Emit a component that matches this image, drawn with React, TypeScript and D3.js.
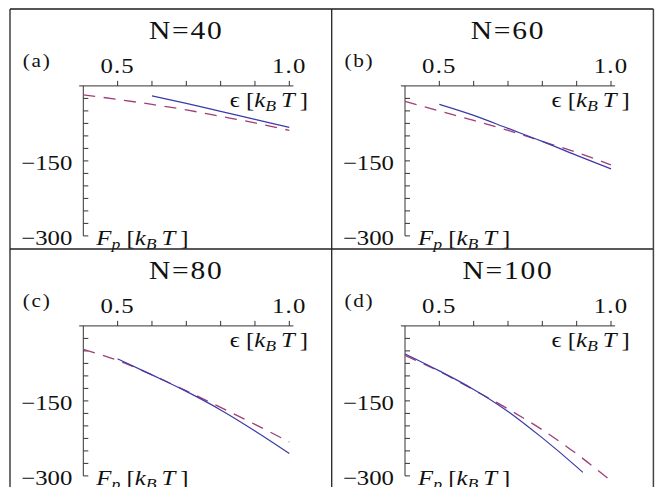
import * as d3 from 'd3'

// epsilon grid shared by most curves
const EPS = [0.4, 0.5, 0.6, 0.7, 0.8, 0.9, 1.0]

// (a) N=40
const BLUE_X_A = [0.6, 0.7, 0.8, 0.9, 1.0]
const BLUE_A = [-20, -35, -51, -67, -83]
const DASH_A = [-18, -27, -37, -48, -61, -74, -89]
// (b) N=60
const BLUE_X_B = [0.5, 0.6, 0.7, 0.8, 0.9, 1.0]
const BLUE_B = [-37, -59, -85, -111, -139, -166]
const DASH_B = [-31, -50, -69, -89, -111, -133, -158]
// (c) N=80
const BLUE_X_C = [0.5, 0.6, 0.7, 0.8, 0.9, 1.0]
const BLUE_C = [-66, -98, -131, -168, -210, -255]
const DASH_C = [-47, -69, -98, -130, -163, -197, -232]
// (d) N=100
const BLUE_X_D = [0.4, 0.5, 0.6, 0.7, 0.8, 0.9, 0.918]
const BLUE_D = [-56, -90, -127, -171, -224, -282, -293]
const DASH_D = [-59, -91, -128, -166, -208, -256, -310]

const TITLES = ['N=40', 'N=60', 'N=80', 'N=100']
const TAGS = ['(a)', '(b)', '(c)', '(d)']
const X_TICK_LABELS = [0.5, 1.0]
const Y_TICK_LABELS = [-150, -300]

const panels = [
  { blueX: BLUE_X_A, blue: BLUE_A, dash: DASH_A },
  { blueX: BLUE_X_B, blue: BLUE_B, dash: DASH_B },
  { blueX: BLUE_X_C, blue: BLUE_C, dash: DASH_C },
  { blueX: BLUE_X_D, blue: BLUE_D, dash: DASH_D },
]

const W = 655
const H = 487
const FX = 10, FY = 9
const PW = 321.7, PH = 240
const FONT = '"Liberation Serif", "DejaVu Serif", serif'
const BLUE = '#3a3aa8'
const PURPLE = '#a33c78'
const AXIS = '#333'
const SX = 1.18 // text in the source is a bit wide

const x = d3.scaleLinear().domain([0.4, 1.0]).range([73.3, 279.3])
const y = d3.scaleLinear().domain([0, -300]).range([76.9, 226.9])

const line = d3.line<[number, number]>()
  .x(d => x(d[0]))
  .y(d => y(d[1]))
  .curve(d3.curveMonotoneX)

function Txt({ tx, ty, anchor = 'start', size, children, ls = 0 }: any) {
  return (
    <g transform={`translate(${tx},${ty}) scale(${SX},1)`}>
      <text textAnchor={anchor} fontSize={size} fontFamily={FONT} letterSpacing={ls} fill="#111">
        {children}
      </text>
    </g>
  )
}

function Panel({ i }: { i: number }) {
  const p = panels[i]
  const px = FX + (i % 2) * PW
  const py = FY + Math.floor(i / 2) * PH
  const xTicks = d3.range(0.5, 1.001, 0.1)
  const yTicks = d3.range(-25, -301, -25)
  const bluePts = p.blueX.map((e, k) => [e, p.blue[k]] as [number, number])
  const dashPts = EPS.map((e, k) => [e, p.dash[k]] as [number, number])
  return (
    <g transform={`translate(${px},${py})`}>
      <Txt tx={x(0.7)} ty={29.5} anchor="middle" size={25} ls={1.5}>{TITLES[i]}</Txt>
      <Txt tx={12.7} ty={58} size={18} ls={1.5}>{TAGS[i]}</Txt>

      {/* x axis along the top */}
      <line x1={x(0.388)} x2={x(1.012)} y1={y(0)} y2={y(0)} stroke={AXIS} strokeWidth={1} />
      {xTicks.map(t => (
        <line key={t} x1={x(t)} x2={x(t)} y1={y(0)} y2={y(0) - 5} stroke={AXIS} strokeWidth={1} />
      ))}
      {X_TICK_LABELS.map(t => (
        <Txt key={t} tx={x(t)} ty={y(0) - 13.3} anchor="middle" size={21} ls={1}>{t.toFixed(1)}</Txt>
      ))}
      <Txt tx={298} ty={98.3} anchor="end" size={21}>
        <tspan>{'\u03F5 ['}</tspan>
        <tspan fontStyle="italic">k</tspan>
        <tspan fontStyle="italic" fontSize={15} dy={4}>B</tspan>
        <tspan fontStyle="italic" dy={-4}>{'\u2009T'}</tspan>
        <tspan>{'\u2009]'}</tspan>
      </Txt>

      {/* y axis */}
      <line x1={x(0.4)} x2={x(0.4)} y1={y(0)} y2={y(-300)} stroke={AXIS} strokeWidth={1} />
      {yTicks.map(t => (
        <line key={t} x1={x(0.4)} x2={x(0.4) + 5} y1={y(t)} y2={y(t)} stroke={AXIS} strokeWidth={1} />
      ))}
      {Y_TICK_LABELS.map(t => (
        <Txt key={t} tx={x(0.4) - 11} ty={y(t) + 9.5} anchor="end" size={21}>{'\u2212' + Math.abs(t)}</Txt>
      ))}
      <Txt tx={x(0.4) + 13} ty={236} size={21}>
        <tspan fontStyle="italic">F</tspan>
        <tspan fontStyle="italic" fontSize={15} dy={4}>p</tspan>
        <tspan dy={-4}>{'\u00a0['}</tspan>
        <tspan fontStyle="italic">k</tspan>
        <tspan fontStyle="italic" fontSize={15} dy={4}>B</tspan>
        <tspan fontStyle="italic" dy={-4}>{'\u2009T'}</tspan>
        <tspan>{'\u2009]'}</tspan>
      </Txt>

      <path d={line(dashPts) || ''} fill="none" stroke={PURPLE} strokeWidth={1.3} strokeDasharray="12,8.5" />
      <path d={line(bluePts) || ''} fill="none" stroke={BLUE} strokeWidth={1.2} />
    </g>
  )
}

export default function App() {
  return (
    <svg width={W} height={H} style={{ position: 'absolute', left: 0, top: 0, background: '#fff' }}>
      {[0, 1, 2, 3].map(i => <Panel key={i} i={i} />)}
      {/* grid frame */}
      <line x1={FX} x2={FX + 2 * PW} y1={FY} y2={FY} stroke="#555" strokeWidth={2} />
      <line x1={FX} x2={FX + 2 * PW} y1={FY + PH} y2={FY + PH} stroke="#222" strokeWidth={1.3} />
      <line x1={FX} x2={FX} y1={FY} y2={H} stroke="#222" strokeWidth={1.3} />
      <line x1={FX + PW} x2={FX + PW} y1={FY} y2={H} stroke="#222" strokeWidth={1.3} />
      <line x1={FX + 2 * PW} x2={FX + 2 * PW} y1={FY} y2={H} stroke="#444" strokeWidth={1.5} />
    </svg>
  )
}
